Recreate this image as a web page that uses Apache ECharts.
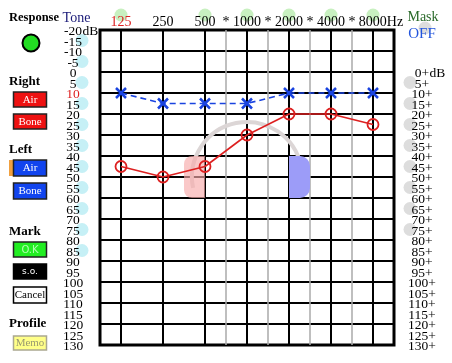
<!DOCTYPE html>
<html><head><meta charset="utf-8">
<script src="https://cdn.jsdelivr.net/npm/echarts@6/dist/echarts.min.js"></script>
<style>html,body{margin:0;padding:0;background:#fff}#c{width:452px;height:363px}</style>
</head><body><div id="c"></div><script>
// ---- data ----
const freqLabels = ['125','250','500','1000','2000','4000','8000'];
const interOctavePos = [2.5, 3.5, 4.5, 5.5];           // 750,1500,3000,6000 Hz
const rightAir = [45, 50, 45, 30, 20, 20, 25];          // red circles
const leftAir  = [10, 15, 15, 15, 10, 10, 10];          // blue crosses
const dbMin = -20, dbMax = 130;
const toneTicks = [-20,-15,-10,-5,0,5,10,15,20,25,30,35,40,45,50,55,60,65,70,75,80,85,90,95,100,105,110,115,120,125,130];
const maskTicks = [0,5,10,15,20,25,30,35,40,45,50,55,60,65,70,75,80,85,90,95,100,105,110,115,120,125,130];
const currentTone = 10;
const maskRight = [1.5, 2, 40, 60];                     // pink block [x0,x1,dB0,dB1]
const maskLeft  = [4, 4.5, 40, 60];                     // blue block
const arcCenter = [3, 50], arcRadiusOct = 1.31;
const toneDots = [-15, -5, 5, 15, 25, 35, 45, 55, 65, 75, 85];
const maskDots = [5, 15, 25, 35, 45, 55, 65, 75];
const freqDots = [0, 2, 3, 4, 5, 6];

const SERIF = 'Liberation Serif';
const chart = echarts.init(document.getElementById('c'), null, {renderer: 'canvas'});

function txt(text, x, y, opt) {
  opt = opt || {};
  return {type: 'text', z: 10, style: {text: text, x: x, y: y,
    font: (opt.weight || 'normal') + ' ' + (opt.size || 13) + 'px "' + (opt.family || SERIF) + '"',
    fill: opt.color || '#000', textAlign: opt.align || 'left', align: opt.align || 'left',
    textVerticalAlign: 'middle', verticalAlign: 'middle'}};
}
function btn(x, y, w, h, fill, stroke, label, color, size, family) {
  return [
    {type: 'rect', z: 9, shape: {x: x, y: y, width: w, height: h}, style: {fill: fill, stroke: stroke, lineWidth: 1.5}},
    txt(label, x + w / 2, y + h / 2 + 0.5, {align: 'center', color: color, size: size || 11, family: family})
  ];
}

const graphics = [].concat(
  [txt('Response', 9, 18, {weight: 'bold', size: 12.5})],
  [{type: 'circle', z: 9, shape: {cx: 31, cy: 43, r: 8.5}, style: {fill: '#22dd22', stroke: '#000', lineWidth: 2}}],
  [txt('Right', 9, 82, {weight: 'bold', size: 13})],
  btn(13.5, 92, 33, 15, '#ee1111', '#222', 'Air', '#fff'),
  btn(13.5, 114, 33, 15, '#ee1111', '#222', 'Bone', '#fff'),
  [txt('Left', 9, 150, {weight: 'bold', size: 13})],
  [{type: 'rect', z: 9, shape: {x: 9, y: 160, width: 4.5, height: 16}, style: {fill: '#f0a040'}}],
  btn(13.5, 160, 33, 16, '#1144ee', '#222', 'Air', '#fff'),
  btn(13.5, 183, 33, 16, '#1144ee', '#222', 'Bone', '#fff'),
  [txt('Mark', 9, 232, {weight: 'bold', size: 13})],
  btn(13.5, 242, 33, 15, '#22ee22', '#222', 'O.K', '#b0ffb0', 10, 'DejaVu Sans'),
  btn(13.5, 264, 33, 15, '#000', '#000', 's.o.', '#fff', 9, 'DejaVu Sans'),
  btn(13.5, 287, 33, 16, '#fff', '#000', 'Cancel', '#000', 11),
  [txt('Profile', 9, 324, {weight: 'bold', size: 13})],
  btn(13.5, 336, 33, 14, '#ffff88', '#aaa890', 'Memo', '#9a9a70', 11),
  [{type: 'circle', z: -1, shape: {cx: 425, cy: 28, r: 6.5}, style: {fill: '#dddddd'}}],
  [txt('Tone', 76.5, 18, {align: 'center', size: 14, color: '#1a1a78'})],
  [txt('Mask', 423, 17, {align: 'center', size: 14, color: '#2a6a2a'})],
  [txt('OFF', 422, 34, {align: 'center', size: 15, color: '#2255dd'})]
);

const LABEL_FONT = 'normal 13.5px "' + SERIF + '"';
function labelText(text, x, y, align, color) {
  return {type: 'text', style: {text: text, x: x, y: y, font: LABEL_FONT, fill: color || '#000',
    align: align, textAlign: align, verticalAlign: 'middle', textVerticalAlign: 'middle'}};
}

const option = {
  animation: false,
  backgroundColor: '#fff',
  grid: {left: 100, top: 30, width: 294, height: 315, show: true, borderColor: '#000', borderWidth: 3, backgroundColor: 'transparent'},
  xAxis: [{
    type: 'value', position: 'top', min: -0.5, max: 6.5, interval: 0.5, z: 5,
    axisLine: {show: false}, axisTick: {show: false}, splitLine: {show: false},
    axisLabel: {
      margin: 1, fontFamily: SERIF, fontSize: 14, color: '#000', showMinLabel: true, showMaxLabel: true,
      formatter: function (v) {
        if (Math.abs(v - Math.round(v)) < 1e-6) {
          const i = Math.round(v);
          if (i < 0 || i >= freqLabels.length) return '';
          if (i === 0) return '{r|' + freqLabels[i] + '}';
          if (i === freqLabels.length - 1) return '{p|}{n|' + freqLabels[i] + '}{n|Hz}';
          return '{n|' + freqLabels[i] + '}';
        }
        return interOctavePos.some(p => Math.abs(p - v) < 1e-6) ? '{n|*}' : '';
      },
      rich: {
        r: {color: '#dd2222', fontFamily: SERIF, fontSize: 14},
        n: {color: '#000', fontFamily: SERIF, fontSize: 14},
        p: {width: 16}
      }
    }
  }],
  yAxis: [
    {type: 'value', inverse: true, min: dbMin, max: dbMax, interval: 10,
      axisLine: {show: false}, axisTick: {show: false}, axisLabel: {show: false},
      splitLine: {show: true, lineStyle: {color: '#000', width: 2}}}
  ],
  graphic: graphics,
  series: [
    // vertical grid lines
    {type: 'line', data: [], silent: true, z: 1,
      markLine: {silent: true, symbol: 'none', z: 1, animation: false, label: {show: false},
        lineStyle: {color: '#000', width: 2, type: 'solid'},
        data: freqLabels.map((f, i) => ({xAxis: i}))}},
    {type: 'line', data: [], silent: true, z: 1,
      markLine: {silent: true, symbol: 'none', z: 1, animation: false, label: {show: false},
        lineStyle: {color: '#aaaaaa', width: 1.5, type: 'solid'},
        data: interOctavePos.map(p => ({xAxis: p}))}},
    // arc decoration
    {type: 'custom', z: 2, silent: true, clip: false, data: [arcCenter],
      renderItem: function (params, api) {
        const c = api.coord([api.value(0), api.value(1)]);
        const r = api.size([arcRadiusOct, 0])[0];
        return {type: 'arc', shape: {cx: c[0], cy: c[1], r: r, startAngle: Math.PI - 0.2, endAngle: 2 * Math.PI + 0.2, clockwise: true},
          style: {stroke: '#dcd6d6', lineWidth: 4, fill: null}};
      }},
    // masking blocks
    {type: 'custom', z: 2, silent: true, data: [maskRight.concat([0]), maskLeft.concat([1])],
      renderItem: function (params, api) {
        const p0 = api.coord([api.value(0), api.value(2)]);
        const p1 = api.coord([api.value(1), api.value(3)]);
        const left = api.value(4) === 0;
        return {type: 'rect', shape: {x: p0[0], y: p0[1], width: p1[0] - p0[0], height: p1[1] - p0[1], r: left ? [8, 0, 0, 8] : [0, 10, 10, 0]},
          style: {fill: left ? 'rgba(247,170,170,0.65)' : '#9c9cf8'}};
      }},
    // tone dots (left), mask dots (right), frequency dots (top)
    {type: 'custom', z: 0, silent: true, clip: false, data: toneDots.map(d => [d]),
      renderItem: function (params, api) {
        const p = api.coord([-0.5, api.value(0)]);
        return {type: 'circle', shape: {cx: p[0] - 18, cy: p[1], r: 6.5}, style: {fill: '#c6f0f6'}};
      }},
    {type: 'custom', z: 0, silent: true, clip: false, data: maskDots.map(d => [d]),
      renderItem: function (params, api) {
        const p = api.coord([6.5, api.value(0)]);
        return {type: 'circle', shape: {cx: p[0] + 16, cy: p[1], r: 6.5}, style: {fill: '#dddddd'}};
      }},
    {type: 'custom', z: 0, silent: true, clip: false, data: freqDots.map(d => [d]),
      renderItem: function (params, api) {
        const p = api.coord([api.value(0), dbMin]);
        return {type: 'circle', shape: {cx: p[0], cy: p[1] - 15, r: 6.5}, style: {fill: '#c8f0c0'}};
      }},
    // tone level labels (left)
    {type: 'custom', z: 5, silent: true, clip: false, data: toneTicks.map(d => [d]),
      renderItem: function (params, api) {
        const v = api.value(0);
        const p = api.coord([-0.5, v]);
        const cx = p[0] - 27, cy = p[1] + 1.5;
        if (v === dbMin) {
          return {type: 'group', children: [labelText(String(v), cx, cy, 'center'), labelText('dB', cx + 9.5, cy, 'left')]};
        }
        return labelText(String(v), cx, cy, 'center', v === currentTone ? '#dd2222' : '#000');
      }},
    // masking level labels (right)
    {type: 'custom', z: 5, silent: true, clip: false, data: maskTicks.map(d => [d]),
      renderItem: function (params, api) {
        const v = api.value(0);
        const p = api.coord([6.5, v]);
        const cx = p[0] + 28, cy = p[1] + 1.5;
        if (v === 0) {
          return {type: 'group', children: [labelText(v + '+', cx, cy, 'center'), labelText('dB', cx + 7.5, cy, 'left')]};
        }
        return labelText(v + '+', cx, cy, 'center');
      }},
    // left air (blue crosses, dashed)
    {type: 'line', z: 4, data: leftAir.map((v, i) => [i, v]),
      symbol: 'path://M0,0L10,10M10,0L0,10', symbolSize: 10,
      itemStyle: {color: 'rgba(0,0,0,0)', borderColor: '#1a44e0', borderWidth: 2.5},
      lineStyle: {color: '#1a44e0', width: 1.6, type: [6, 4]}},
    // right air (red circles)
    {type: 'line', z: 4, data: rightAir.map((v, i) => [i, v]),
      symbol: 'circle', symbolSize: 11,
      itemStyle: {color: 'rgba(0,0,0,0)', borderColor: '#dd2020', borderWidth: 1.8},
      lineStyle: {color: '#dd2020', width: 1.6}}
  ]
};
chart.setOption(option);
</script></body></html>
